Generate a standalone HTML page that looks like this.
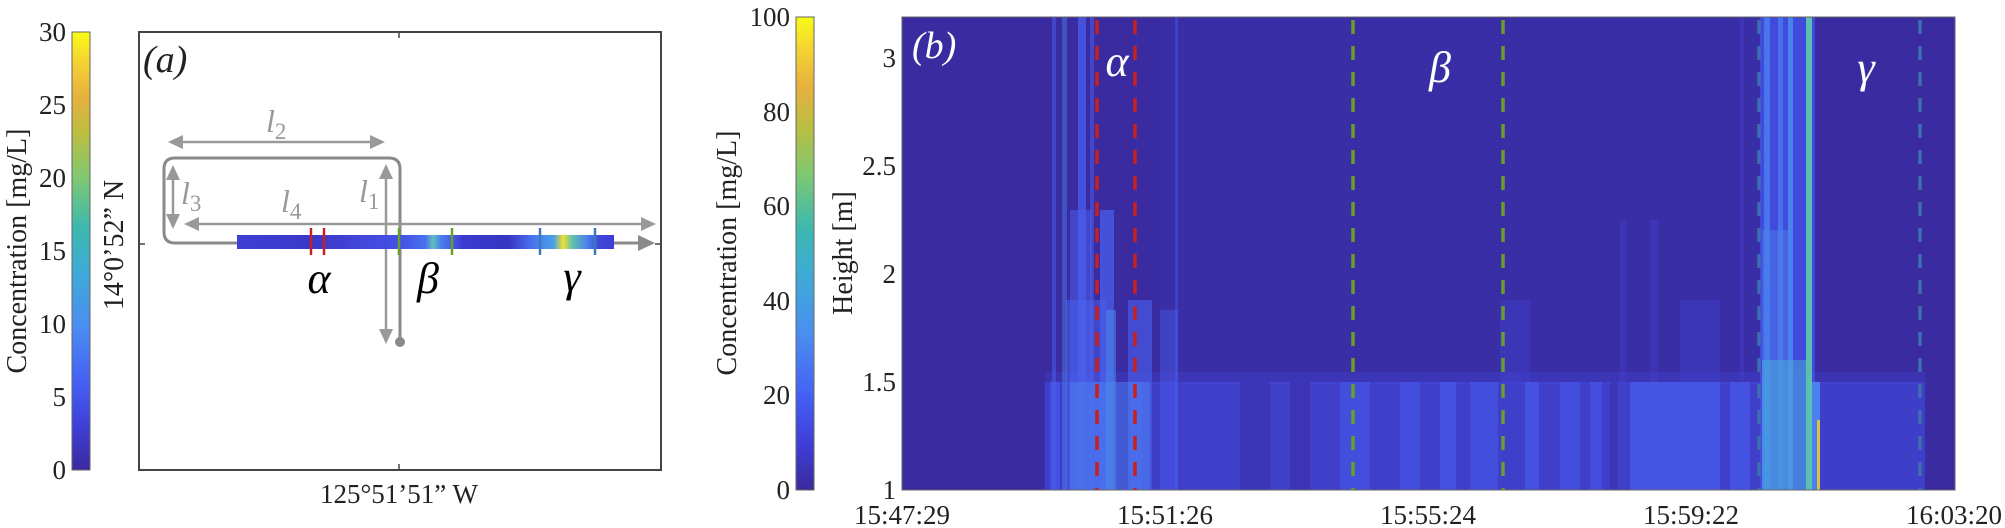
<!DOCTYPE html>
<html><head><meta charset="utf-8"><style>
html,body{margin:0;padding:0;background:#fff;}
svg{display:block;}
text{font-family:"Liberation Serif",serif;fill:#222;}
</style></head><body>
<svg width="2005" height="528" viewBox="0 0 2005 528" xmlns="http://www.w3.org/2000/svg">
<defs>
<linearGradient id="parula" x1="0" y1="1" x2="0" y2="0">
<stop offset="0" stop-color="#3b2a9e"/>
<stop offset="0.1" stop-color="#3e3fd8"/>
<stop offset="0.2" stop-color="#4560f5"/>
<stop offset="0.33" stop-color="#4a8ef0"/>
<stop offset="0.45" stop-color="#3faad8"/>
<stop offset="0.55" stop-color="#3cb8b0"/>
<stop offset="0.67" stop-color="#80c870"/>
<stop offset="0.77" stop-color="#bcbe40"/>
<stop offset="0.85" stop-color="#e6b03e"/>
<stop offset="0.93" stop-color="#f4d232"/>
<stop offset="1" stop-color="#f9fb15"/>
</linearGradient>
<linearGradient id="track" x1="0" x2="1" y1="0" y2="0">
<stop offset="0" stop-color="#3f3fd6"/>
<stop offset="0.2" stop-color="#3a38c8"/>
<stop offset="0.35" stop-color="#4448dc"/>
<stop offset="0.43" stop-color="#4450e4"/>
<stop offset="0.5" stop-color="#4a70ee"/>
<stop offset="0.52" stop-color="#60c0b8"/>
<stop offset="0.54" stop-color="#4a80ee"/>
<stop offset="0.6" stop-color="#3a3ad0"/>
<stop offset="0.72" stop-color="#3636c0"/>
<stop offset="0.78" stop-color="#4870ee"/>
<stop offset="0.84" stop-color="#4aa0e8"/>
<stop offset="0.865" stop-color="#f0e030"/>
<stop offset="0.89" stop-color="#60c0b0"/>
<stop offset="0.93" stop-color="#4a80ee"/>
<stop offset="0.96" stop-color="#4045d8"/>
<stop offset="1" stop-color="#3e3ed4"/>
</linearGradient>
</defs>

<!-- ===== Panel (a) ===== -->
<rect x="72" y="32" width="18" height="438" fill="url(#parula)" stroke="#666" stroke-width="1"/>
<g font-size="27" text-anchor="end">
<text x="66" y="41">30</text>
<text x="66" y="114">25</text>
<text x="66" y="187">20</text>
<text x="66" y="260">15</text>
<text x="66" y="333">10</text>
<text x="66" y="406">5</text>
<text x="66" y="479">0</text>
</g>
<text transform="translate(26,251) rotate(-90)" font-size="28" text-anchor="middle">Concentration [mg/L]</text>
<text transform="translate(123,245) rotate(-90)" font-size="28" text-anchor="middle">14°0’52” N</text>

<rect x="139" y="32" width="522" height="438" fill="none" stroke="#444" stroke-width="2"/>
<line x1="399" y1="32" x2="399" y2="38" stroke="#444" stroke-width="1.5"/>
<line x1="399" y1="470" x2="399" y2="464" stroke="#444" stroke-width="1.5"/>
<line x1="139" y1="244" x2="145" y2="244" stroke="#444" stroke-width="1.5"/>
<line x1="661" y1="244" x2="655" y2="244" stroke="#444" stroke-width="1.5"/>
<text x="399" y="503" font-size="27" text-anchor="middle">125°51’51” W</text>
<text x="143" y="72" font-size="38" font-style="italic">(a)</text>

<!-- track -->
<path d="M237,243 L175,243 Q164,243 164,232 L164,169 Q164,158 175,158 L389,158 Q400,158 400,169 L400,341" fill="none" stroke="#8a8a8a" stroke-width="3"/>
<circle cx="400" cy="342" r="5" fill="#8a8a8a"/>
<line x1="612" y1="243" x2="640" y2="243" stroke="#8a8a8a" stroke-width="3"/>
<polygon points="638,235 655,243 638,251" fill="#8a8a8a"/>
<line x1="195" y1="224" x2="642" y2="224" stroke="#999" stroke-width="2.5"/>
<polygon points="184,224 199,217 199,231" fill="#999"/>
<polygon points="656,224 641,217 641,231" fill="#999"/>
<line x1="178" y1="142" x2="375" y2="142" stroke="#999" stroke-width="2.5"/>
<polygon points="168,142 183,135 183,149" fill="#999"/>
<polygon points="385,142 370,135 370,149" fill="#999"/>
<line x1="173" y1="175" x2="173" y2="218" stroke="#999" stroke-width="2.5"/>
<polygon points="173,165 166,180 180,180" fill="#999"/>
<polygon points="173,229 166,214 180,214" fill="#999"/>
<line x1="386" y1="175" x2="386" y2="333" stroke="#999" stroke-width="2.5"/>
<polygon points="386,164 379,179 393,179" fill="#999"/>
<polygon points="386,344 379,329 393,329" fill="#999"/>
<g font-size="32" font-style="italic">
<text x="266" y="132" style="fill:#999">l<tspan font-size="23" dy="7" font-style="normal">2</tspan></text>
<text x="181" y="204" style="fill:#999">l<tspan font-size="23" dy="7" font-style="normal">3</tspan></text>
<text x="281" y="212" style="fill:#999">l<tspan font-size="23" dy="7" font-style="normal">4</tspan></text>
<text x="359" y="202" style="fill:#999">l<tspan font-size="23" dy="7" font-style="normal">1</tspan></text>
</g>
<rect x="237" y="235" width="377" height="14" fill="url(#track)"/>
<g stroke-width="2.5">
<line x1="311" y1="228" x2="311" y2="255" stroke="#c82020"/>
<line x1="324" y1="228" x2="324" y2="255" stroke="#c82020"/>
<line x1="399" y1="228" x2="399" y2="255" stroke="#6a9e2a"/>
<line x1="452" y1="228" x2="452" y2="255" stroke="#6a9e2a"/>
<line x1="540" y1="228" x2="540" y2="255" stroke="#3a7ab8"/>
<line x1="595" y1="228" x2="595" y2="255" stroke="#3a7ab8"/>
</g>
<g font-size="44" font-style="italic" text-anchor="middle">
<text x="319" y="293" style="fill:#000">α</text>
<text x="428" y="293" style="fill:#000">β</text>
<text x="572" y="291" style="fill:#000">γ</text>
</g>

<!-- ===== Panel (b) ===== -->
<rect x="796" y="17" width="18" height="473" fill="url(#parula)" stroke="#666" stroke-width="1"/>
<g font-size="27" text-anchor="end">
<text x="790" y="26">100</text>
<text x="790" y="121">80</text>
<text x="790" y="215">60</text>
<text x="790" y="310">40</text>
<text x="790" y="404">20</text>
<text x="790" y="499">0</text>
</g>
<text transform="translate(736,253) rotate(-90)" font-size="28" text-anchor="middle">Concentration [mg/L]</text>
<text transform="translate(852,253) rotate(-90)" font-size="28" text-anchor="middle">Height [m]</text>
<g font-size="27" text-anchor="end">
<text x="896" y="67">3</text>
<text x="896" y="175">2.5</text>
<text x="896" y="283">2</text>
<text x="896" y="391">1.5</text>
<text x="896" y="499">1</text>
</g>
<g font-size="27" text-anchor="middle">
<text x="902" y="524">15:47:29</text>
<text x="1165" y="524">15:51:26</text>
<text x="1428" y="524">15:55:24</text>
<text x="1691" y="524">15:59:22</text>
<text x="1954" y="524">16:03:20</text>
</g>

<rect x="902" y="17" width="1053" height="473" fill="#3a2ba0"/>
<rect x="1160" y="17" width="600" height="473" fill="#3a34b8" opacity="0.3"/>
<rect x="1045" y="382" width="880" height="108" fill="#4246d6" opacity="0.75"/>
<rect x="1045" y="372" width="880" height="12" fill="#4246d6" opacity="0.3"/>
<g fill="#4a5ef0">
<rect x="1050" y="382" width="10" height="108" opacity="0.6"/>
<rect x="1090" y="382" width="14" height="108" opacity="0.6"/>
<rect x="1130" y="382" width="12" height="108" opacity="0.5"/>
<rect x="1340" y="382" width="30" height="108" opacity="0.5"/>
<rect x="1400" y="382" width="20" height="108" opacity="0.5"/>
<rect x="1440" y="382" width="16" height="108" opacity="0.6"/>
<rect x="1470" y="382" width="28" height="108" opacity="0.5"/>
<rect x="1525" y="382" width="14" height="108" opacity="0.6"/>
<rect x="1560" y="382" width="20" height="108" opacity="0.5"/>
<rect x="1590" y="382" width="12" height="108" opacity="0.5"/>
<rect x="1630" y="382" width="90" height="108" opacity="0.7"/>
<rect x="1730" y="382" width="20" height="108" opacity="0.6"/>
</g>
<g fill="#3a2ba0" opacity="0.5">
<rect x="1240" y="382" width="30" height="108"/>
<rect x="1290" y="382" width="20" height="108"/>
<rect x="1610" y="382" width="8" height="108"/>
</g>
<g fill="#4a62f0">
<rect x="1052" y="17" width="4" height="473" opacity="0.5"/>
<rect x="1078" y="17" width="8" height="473" opacity="0.7"/>
<rect x="1090" y="17" width="4" height="473" opacity="0.5"/>
<rect x="1175" y="17" width="3" height="473" opacity="0.4"/>
<rect x="1070" y="210" width="22" height="280" opacity="0.5"/>
<rect x="1100" y="210" width="14" height="280" opacity="0.7"/>
<rect x="1066" y="300" width="40" height="190" opacity="0.5"/>
<rect x="1128" y="300" width="24" height="190" opacity="0.6"/>
<rect x="1160" y="310" width="18" height="180" opacity="0.4"/>
</g>
<g fill="#4c90ee">
<rect x="1062" y="17" width="5" height="473" opacity="0.4"/>
<rect x="1106" y="310" width="10" height="180" opacity="0.5"/>
<rect x="1070" y="382" width="80" height="108" opacity="0.35"/>
</g>
<g fill="#4246d6" opacity="0.35">
<rect x="1500" y="300" width="30" height="82"/>
<rect x="1620" y="220" width="6" height="162"/>
<rect x="1650" y="220" width="8" height="162"/>
<rect x="1680" y="300" width="40" height="82"/>
<rect x="1740" y="17" width="4" height="365"/>
</g>
<g>
<rect x="1760" y="17" width="55" height="473" fill="#4352e8" opacity="0.8"/>
<rect x="1764" y="17" width="6" height="473" fill="#4a80f0" opacity="0.8"/>
<rect x="1778" y="17" width="5" height="473" fill="#4a80f0" opacity="0.7"/>
<rect x="1788" y="17" width="5" height="473" fill="#4a90f0" opacity="0.8"/>
<rect x="1762" y="230" width="30" height="260" fill="#4a80f0" opacity="0.5"/>
<rect x="1762" y="360" width="50" height="130" fill="#4ab0d8" opacity="0.5"/>
<rect x="1806" y="17" width="6" height="473" fill="#5cc0b0"/>
<rect x="1812" y="382" width="8" height="108" fill="#4a80f0"/>
<rect x="1817" y="420" width="3" height="70" fill="#d8c040"/>
</g>
<g stroke-width="3.5" stroke-dasharray="14,12">
<line x1="1097" y1="20" x2="1097" y2="490" stroke="#c8201e"/>
<line x1="1135" y1="20" x2="1135" y2="490" stroke="#c8201e"/>
<line x1="1353" y1="20" x2="1353" y2="490" stroke="#6a9e2a"/>
<line x1="1503" y1="20" x2="1503" y2="490" stroke="#6a9e2a"/>
<line x1="1759" y1="20" x2="1759" y2="490" stroke="#3d6eb0"/>
<line x1="1920" y1="20" x2="1920" y2="490" stroke="#3d6eb0"/>
</g>
<rect x="902" y="17" width="1053" height="473" fill="none" stroke="#666" stroke-width="1"/>
<text x="912" y="58" font-size="38" font-style="italic" style="fill:#fff">(b)</text>
<g font-size="44" font-style="italic" text-anchor="middle">
<text x="1117" y="76" style="fill:#fff">α</text>
<text x="1440" y="82" style="fill:#fff">β</text>
<text x="1866" y="82" style="fill:#fff">γ</text>
</g>
</svg>
</body></html>
